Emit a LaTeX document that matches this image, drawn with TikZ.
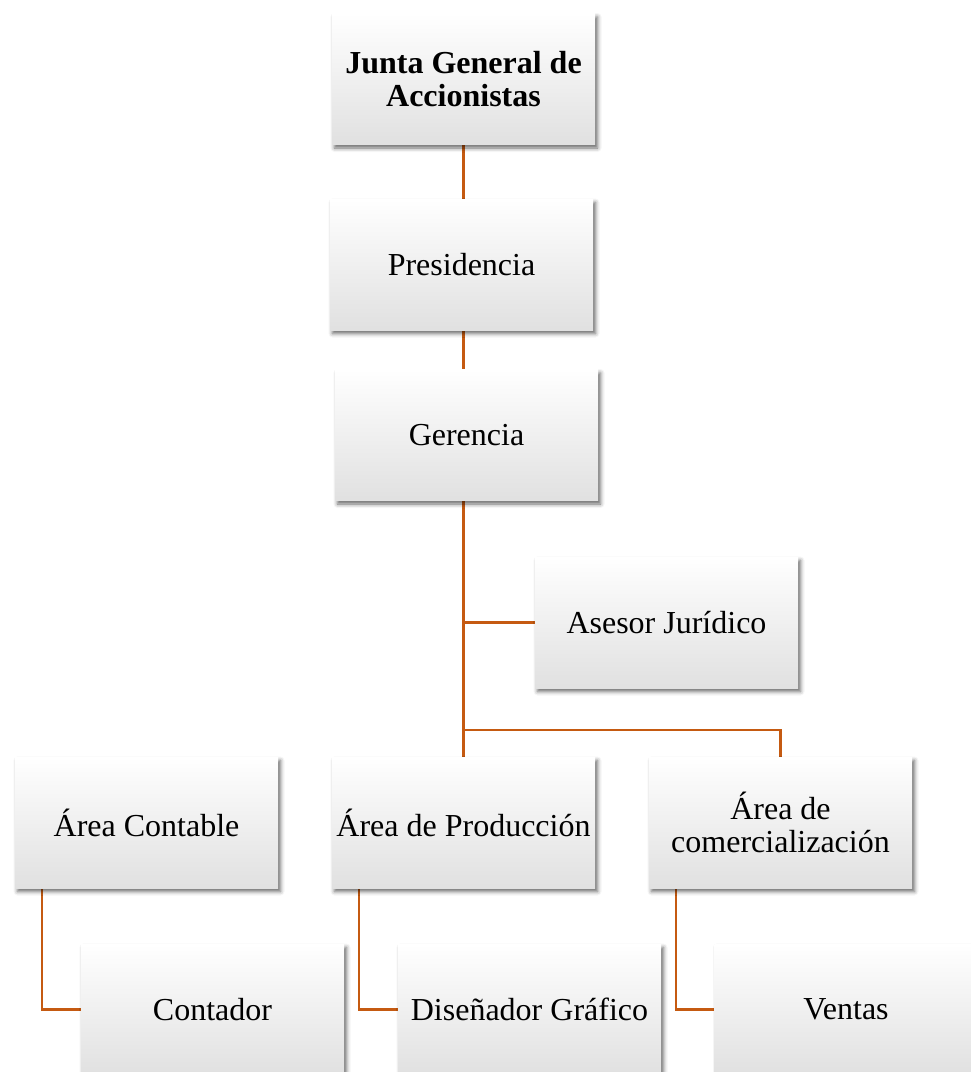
\documentclass[tikz,border=0pt]{standalone}
\usepackage{fontspec}
\setmainfont{Liberation Serif}
\usetikzlibrary{shadows.blur,backgrounds}
\definecolor{linkorange}{HTML}{C55A11}
\tikzset{
  orgbox/.style={rectangle, minimum width=263pt, minimum height=131pt, inner sep=0pt,
    align=center, font=\fontsize{32}{33}\selectfont,
    top color=white, middle color=white, bottom color=gray!24,
    blur shadow={shadow xshift=2.5pt, shadow yshift=-3.5pt, shadow blur radius=4pt, shadow opacity=60}},
  link/.style={draw=linkorange, line width=2.6pt}
}
\begin{document}
\begin{tikzpicture}[x=1pt, y=-1pt]
\useasboundingbox (0,0) rectangle (971,1072);
\clip (0,0) rectangle (971,1072);

% boxes
\node[orgbox] (junta) at (463.5,79) {\textbf{Junta General de}\\\textbf{Accionistas}};
\node[orgbox] (pres) at (461.5,264.5) {Presidencia};
\node[orgbox] (ger) at (466.5,435) {Gerencia};
\node[orgbox] (aj) at (666.5,622.5) {Asesor Jurídico};
\node[orgbox] (cont) at (146.5,822.5) {Área Contable};
\node[orgbox] (prod) at (463.5,822.5) {Área de Producción};
\node[orgbox] (com) at (780.5,822.5) {Área de\\comercialización};
\node[orgbox] (contador) at (212.5,1009.5) {Contador};
\node[orgbox] (dis) at (529.5,1009.5) {Diseñador Gráfico};
\node[orgbox] (ventas) at (846,1009.5) {Ventas};

\coordinate (bus) at (463.5,730);

% connectors, behind the boxes
\begin{scope}[on background layer]
\draw[link] (junta.south) -- (junta.south |- pres.north);
\draw[link] (junta.south |- pres.south) -- (junta.south |- ger.north);
\draw[link] (junta.south |- ger.south) -- (prod.north);
\draw[link] (aj.west) -- (aj.west -| prod.north);
\draw[link] (bus) -| (com.north);
\draw[link] ([xshift=27pt]cont.south west) |- (contador.west);
\draw[link] ([xshift=27pt]prod.south west) |- (dis.west);
\draw[link] ([xshift=27pt]com.south west) |- (ventas.west);
\end{scope}
\end{tikzpicture}
\end{document}
